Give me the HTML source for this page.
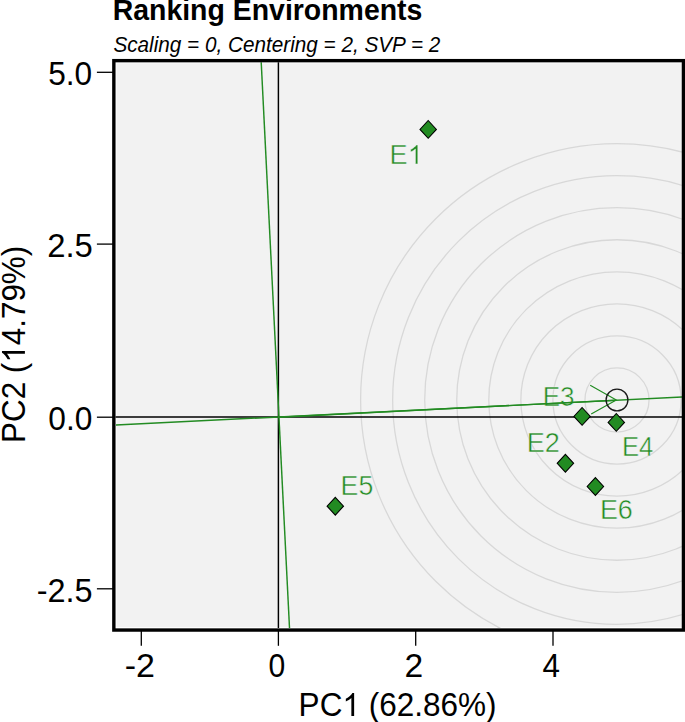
<!DOCTYPE html>
<html><head><meta charset="utf-8"><style>
html,body{margin:0;padding:0;background:#fff;width:685px;height:722px;overflow:hidden}
svg{display:block}
text{font-family:"Liberation Sans",sans-serif}
</style></head><body>
<svg width="685" height="722" viewBox="0 0 685 722">
<defs><clipPath id="pc"><rect x="115.5" y="62.3" width="567" height="565.8"/></clipPath></defs>
<rect x="115.5" y="62.3" width="567" height="565.8" fill="#fff"/>
<rect x="116.5" y="63.3" width="566" height="563.8" fill="#F2F2F2"/>
<g clip-path="url(#pc)">
<g fill="none" stroke="#D8D8D8" stroke-width="1.3"><circle cx="617.0" cy="400.0" r="32.05"/><circle cx="617.0" cy="400.0" r="64.10"/><circle cx="617.0" cy="400.0" r="96.15"/><circle cx="617.0" cy="400.0" r="128.20"/><circle cx="617.0" cy="400.0" r="160.25"/><circle cx="617.0" cy="400.0" r="192.30"/><circle cx="617.0" cy="400.0" r="224.35"/><circle cx="617.0" cy="400.0" r="256.40"/></g>
<g stroke="#000" stroke-width="1.45" fill="none">
<line x1="115" y1="416.95" x2="683" y2="416.95"/>
<line x1="278.4" y1="62" x2="278.4" y2="629"/>
</g>
<g fill="#228B22" stroke="#F2F2F2" stroke-width="0.5"><g><text x="389.57" y="163.90" font-size="27.5" textLength="33.21" lengthAdjust="spacingAndGlyphs">E </text><path transform="translate(407.68 163.90) scale(0.01326 -0.01296)" d="M763 0L583 0L583 1147Q518 1085 412 1023Q306 961 223 930L223 1104Q374 1175 487 1276Q600 1377 648 1466L763 1466Z" vector-effect="non-scaling-stroke"/></g><text x="542.66" y="405.50" font-size="27.5" textLength="31.88" lengthAdjust="spacingAndGlyphs">E3</text><text x="621.89" y="455.70" font-size="27.5" textLength="31.46" lengthAdjust="spacingAndGlyphs">E4</text><text x="526.77" y="452.40" font-size="27.5" textLength="33.19" lengthAdjust="spacingAndGlyphs">E2</text><text x="599.89" y="519.30" font-size="27.5" textLength="33.00" lengthAdjust="spacingAndGlyphs">E6</text><text x="340.61" y="494.80" font-size="27.5" textLength="32.72" lengthAdjust="spacingAndGlyphs">E5</text></g>
<g stroke="#228B22" stroke-width="1.45" fill="none">
<line x1="116" y1="425.0" x2="682" y2="397.0"/>
<line x1="261.2" y1="62" x2="289.5" y2="628"/>
<path d="M278.4 417.2L616.0 400.2"/>
<path d="M590.2 385.3L616.3 400.0L591.2 414.1" stroke-width="1.15"/>
</g>
<circle cx="617.0" cy="400.0" r="10.9" fill="none" stroke="#1a1a1a" stroke-width="1.35"/>
<g fill="#228B22" stroke="#000" stroke-width="1.1" stroke-linejoin="miter"><path d="M428.2 120.5L436.4 129.4L428.2 138.3L420.0 129.4Z"/><path d="M582.1 407.5L590.3 416.4L582.1 425.3L573.9 416.4Z"/><path d="M616.3 413.5L624.5 422.4L616.3 431.3L608.1 422.4Z"/><path d="M565.4 454.4L573.6 463.3L565.4 472.2L557.2 463.3Z"/><path d="M595.4 477.6L603.6 486.5L595.4 495.4L587.2 486.5Z"/><path d="M335.3 497.3L343.5 506.2L335.3 515.1L327.1 506.2Z"/></g>
</g>
<rect x="113.85" y="60.65" width="569.6" height="569.4" fill="none" stroke="#000" stroke-width="3.4"/>
<g stroke="#000" stroke-width="1.3">
<line x1="96.9" y1="72.3" x2="113" y2="72.3"/>
<line x1="96.9" y1="244.1" x2="113" y2="244.1"/>
<line x1="96.9" y1="417.2" x2="113" y2="417.2"/>
<line x1="96.9" y1="588.8" x2="113" y2="588.8"/>
<line x1="141.3" y1="631" x2="141.3" y2="645.8"/>
<line x1="278.4" y1="631" x2="278.4" y2="645.8"/>
<line x1="415.7" y1="631" x2="415.7" y2="645.8"/>
<line x1="553.0" y1="631" x2="553.0" y2="645.8"/>
</g>
<g fill="#000">
<text x="48.23" y="85.30" font-size="32.8" textLength="44.00" lengthAdjust="spacingAndGlyphs">5.0</text><text x="47.15" y="257.30" font-size="32.8" textLength="45.63" lengthAdjust="spacingAndGlyphs">2.5</text><text x="48.36" y="430.00" font-size="32.8" textLength="44.08" lengthAdjust="spacingAndGlyphs">0.0</text><text x="36.76" y="601.50" font-size="32.8" textLength="55.90" lengthAdjust="spacingAndGlyphs">-2.5</text>
<text x="124.79" y="676.60" font-size="32.8" textLength="30.22" lengthAdjust="spacingAndGlyphs">-2</text><text x="268.62" y="676.60" font-size="32.8" textLength="16.75" lengthAdjust="spacingAndGlyphs">0</text><text x="404.61" y="676.60" font-size="32.8" textLength="18.68" lengthAdjust="spacingAndGlyphs">2</text><text x="542.48" y="676.60" font-size="32.8" textLength="17.44" lengthAdjust="spacingAndGlyphs">4</text>
<g><text x="298.61" y="716.00" font-size="33.2" textLength="197.94" lengthAdjust="spacingAndGlyphs">PC  (62.86%)</text><path transform="translate(342.39 716.00) scale(0.01539 -0.01564)" d="M763 0L583 0L583 1147Q518 1085 412 1023Q306 961 223 930L223 1104Q374 1175 487 1276Q600 1377 648 1466L763 1466Z" vector-effect="non-scaling-stroke"/></g>
<g transform="translate(24.9 0) rotate(-90)"><text x="-442.98" y="0.00" font-size="33.2" textLength="197.22" lengthAdjust="spacingAndGlyphs">PC2 ( 4.79%)</text><path transform="translate(-362.71 0.00) scale(0.01533 -0.01564)" d="M763 0L583 0L583 1147Q518 1085 412 1023Q306 961 223 930L223 1104Q374 1175 487 1276Q600 1377 648 1466L763 1466Z" vector-effect="non-scaling-stroke"/></g>
<text x="112.70" y="19.90" font-size="29.5" font-weight="bold" textLength="309.67" lengthAdjust="spacingAndGlyphs">Ranking Environments</text>
<text x="113.41" y="51.50" font-size="22" font-style="italic" textLength="326.89" lengthAdjust="spacingAndGlyphs">Scaling = 0, Centering = 2, SVP = 2</text>
</g>
</svg>
</body></html>
